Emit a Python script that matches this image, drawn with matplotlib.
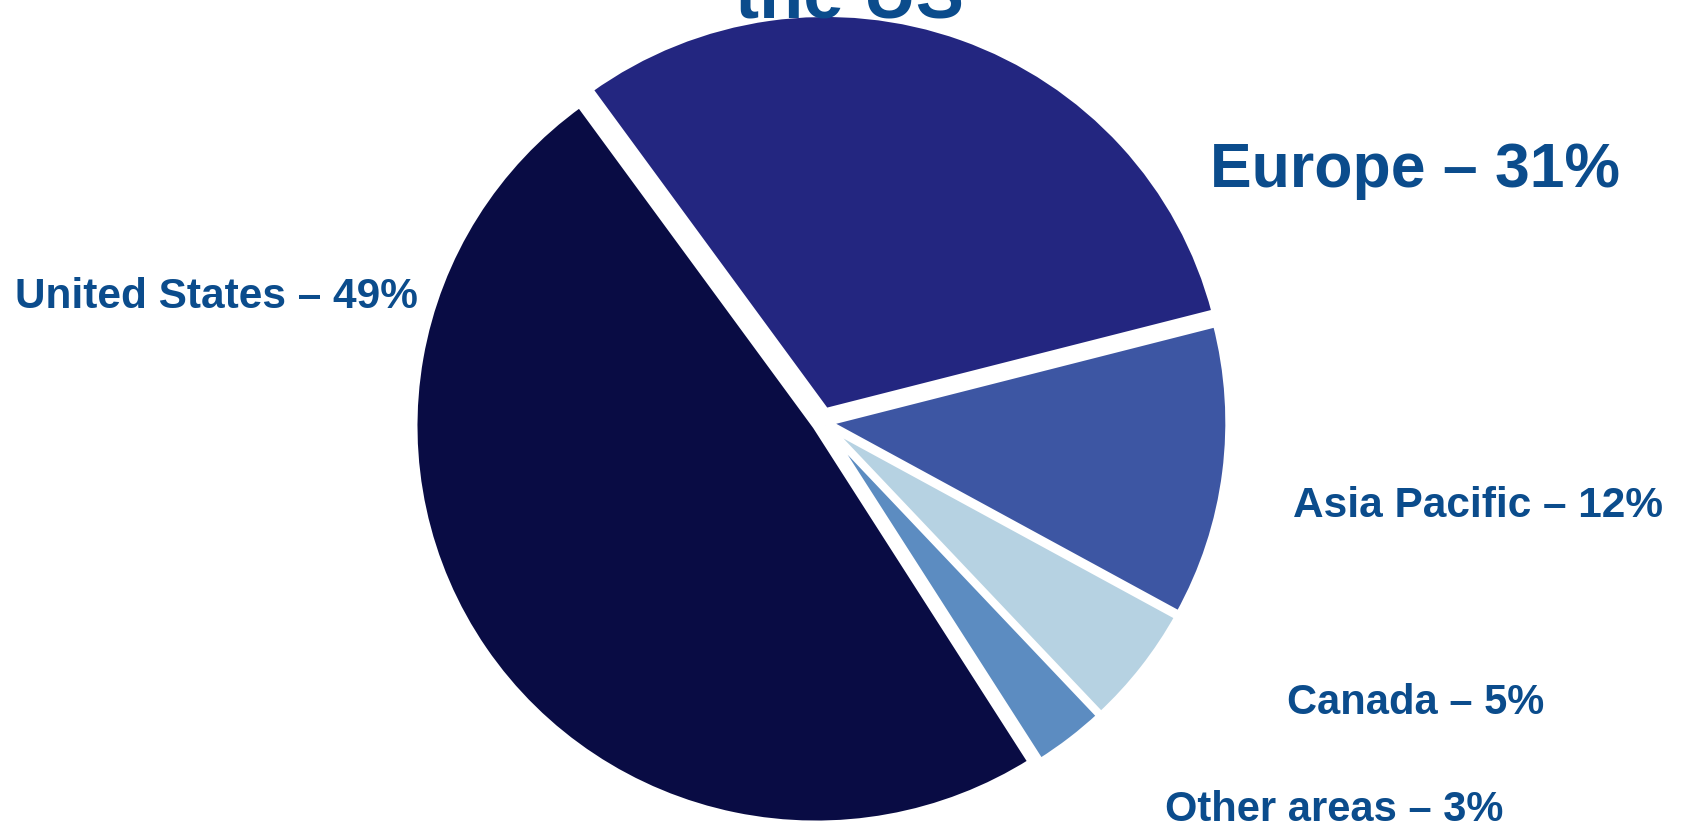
import matplotlib
matplotlib.use("Agg")
import matplotlib.pyplot as plt

# ---- data ----
categories = ["Europe", "Asia Pacific", "Canada", "Other areas", "United States"]
values = [31, 12, 5, 3, 49]
colors = ["#232680", "#3d56a3", "#b6d2e2", "#5c8cc1", "#090c44"]
title_text = "the US"

# ---- layout (pixels, origin top-left) ----
W, H = 1683, 825
label_pos = {
    "United States": (15, 308, 30.5),
    "Europe": (1210, 187, 45),
    "Asia Pacific": (1293, 517, 30.5),
    "Canada": (1287, 714, 30),
    "Other areas": (1165, 821, 30),
}
text_color = "#0b4c8c"

plt.rcParams["font.family"] = ["Liberation Sans", "DejaVu Sans"]
fig = plt.figure(figsize=(W / 100, H / 100), dpi=100)

# text layer covering whole figure in pixel units
tax = fig.add_axes([0, 0, 1, 1])
tax.set_xlim(0, W)
tax.set_ylim(0, H)
tax.axis("off")

# elliptical pie: separate axes sized in pixels
cx, cy = 822, 422          # centre, px from top-left
Rx, Ry = 402, 398          # radii in px
span = 1.12
pw, ph = 2 * Rx * span, 2 * Ry * span
pax = fig.add_axes([(cx - pw / 2) / W, (H - cy - ph / 2) / H, pw / W, ph / H])
explode = [0.028, 0.012, 0.012, 0.012, 0.018]
pax.pie(values, colors=colors, startangle=126, counterclock=False,
        radius=1.0, explode=explode, frame=False,
        wedgeprops=dict(edgecolor="white", linewidth=5))
pax.set_xlim(-span, span)
pax.set_ylim(-span, span)
pax.set_aspect("auto")
pax.axis("off")
pax.set_zorder(0)
tax.set_zorder(1)

for cat, val in zip(categories, values):
    x, y, fs = label_pos[cat]
    tax.text(x, H - y, f"{cat} – {val}%", fontsize=fs, fontweight="bold",
             color=text_color, ha="left", va="baseline")

tax.text(735, H - 18, title_text, fontsize=52, fontweight="bold",
         color=text_color, ha="left", va="baseline", clip_on=False)

fig.savefig("out.png", dpi=100)
